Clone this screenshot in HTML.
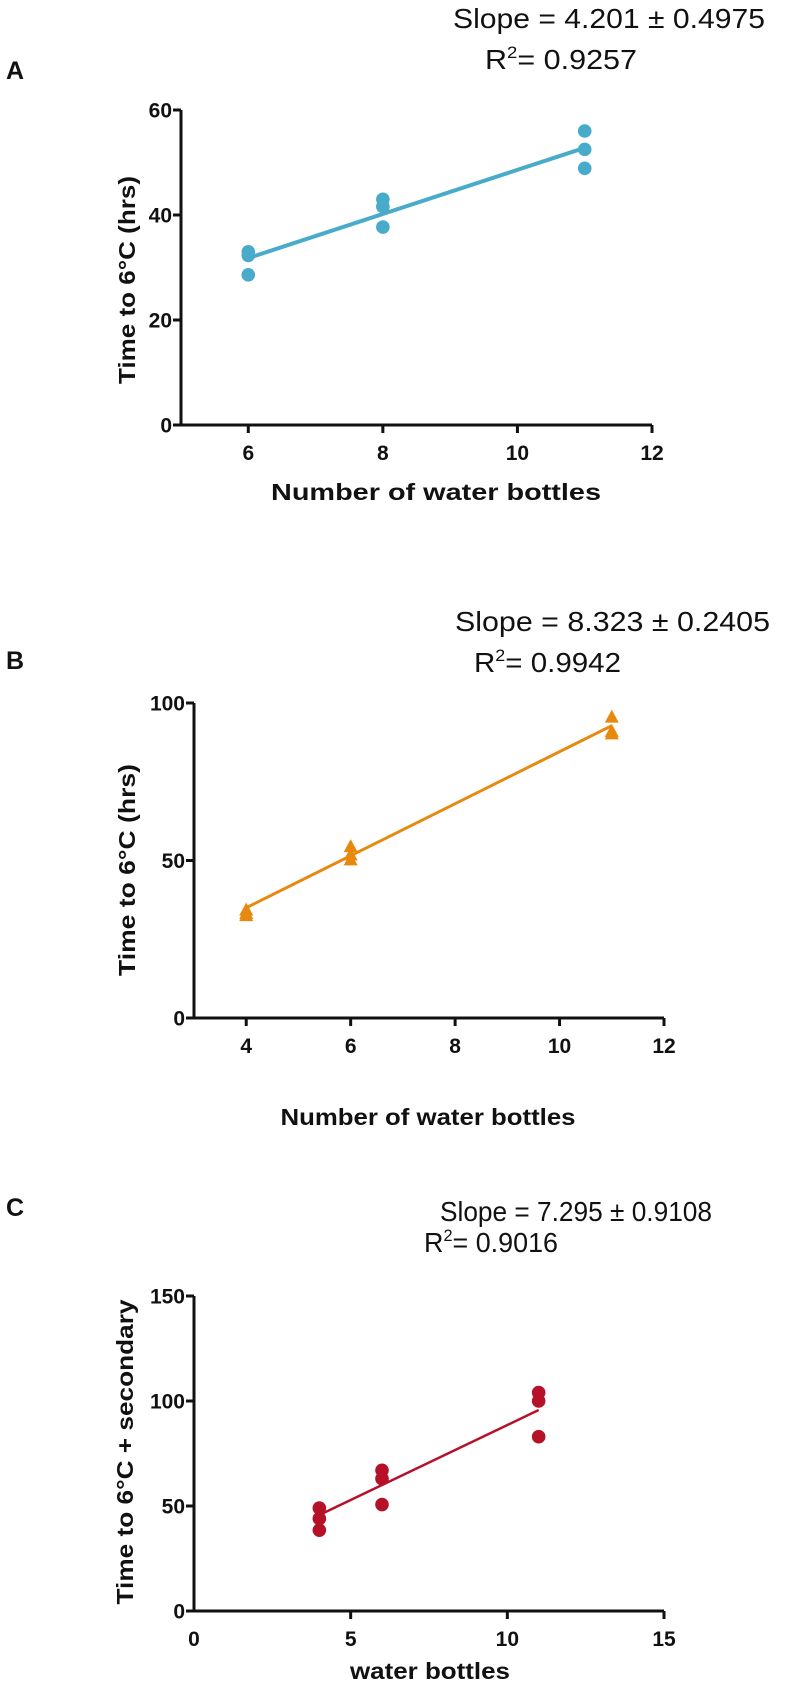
<!DOCTYPE html>
<html><head><meta charset="utf-8">
<style>
html,body{margin:0;padding:0;background:#fff;}
svg{display:block;}
text{font-family:"Liberation Sans",Arial,sans-serif;}
.tick{font-weight:bold;font-size:21px;fill:#111;}
.title{font-weight:bold;font-size:23px;fill:#111;}
.stat{font-size:28px;fill:#111;}
.panel{font-weight:bold;font-size:25px;fill:#111;}
</style></head>
<body>
<svg id="fig" width="800" height="1683" viewBox="0 0 800 1683">
  <text class="panel" x="6" y="79">A</text>
  <text class="stat" x="453" y="28" textLength="312" lengthAdjust="spacingAndGlyphs">Slope =  4.201 ± 0.4975</text>
  <text class="stat" x="485" y="69" textLength="152" lengthAdjust="spacingAndGlyphs">R<tspan dy="-11" font-size="17">2</tspan><tspan dy="11">=  0.9257</tspan></text>

  <text class="panel" x="6" y="669">B</text>
  <text class="stat" x="455" y="631" textLength="315" lengthAdjust="spacingAndGlyphs">Slope =  8.323 ± 0.2405</text>
  <text class="stat" x="474" y="672" textLength="147" lengthAdjust="spacingAndGlyphs">R<tspan dy="-11" font-size="17">2</tspan><tspan dy="11">=  0.9942</tspan></text>

  <text class="panel" x="6" y="1216">C</text>
  <text class="stat" x="440" y="1221" textLength="272" lengthAdjust="spacingAndGlyphs">Slope =  7.295 ± 0.9108</text>
  <text class="stat" x="424" y="1252" textLength="134" lengthAdjust="spacingAndGlyphs">R<tspan dy="-11" font-size="17">2</tspan><tspan dy="11">= 0.9016</tspan></text>
</svg>
<script>
// Panel A data
const aX = [6, 6, 6, 8, 8, 8, 11, 11, 11];
const aY = [33, 32.3, 28.6, 43, 41.6, 37.7, 56, 52.5, 48.9];
const aFit = [31.8, 52.8];
const aFitX = [6, 11];
const aXTicks = [6, 8, 10, 12];
const aYTicks = [0, 20, 40, 60];
// Panel B data
const bX = [4, 4, 4, 6, 6, 6, 11, 11, 11];
const bY = [34.3, 33.2, 32.5, 54.4, 51.8, 50.2, 95.5, 91, 90.2];
const bFit = [35, 92.8];
const bFitX = [4, 11];
const bXTicks = [4, 6, 8, 10, 12];
const bYTicks = [0, 50, 100];
// Panel C data
const cX = [4, 4, 4, 6, 6, 6, 11, 11, 11];
const cY = [49, 44, 38.5, 67, 63, 50.7, 104, 100, 83];
const cFit = [45.7, 95.7];
const cFitX = [4, 11];
const cXTicks = [0, 5, 10, 15];
const cYTicks = [0, 50, 100, 150];

const NS = 'http://www.w3.org/2000/svg';
const svg = document.getElementById('fig');
function mk(tag, attrs, parent){
  const e = document.createElementNS(NS, tag);
  for (const k in attrs) e.setAttribute(k, attrs[k]);
  (parent || svg).appendChild(e);
  return e;
}
function panel(o){
  const g = mk('g', {});
  
  
  const sx = v => o.px0 + (v - o.xmin) / (o.xmax - o.xmin) * (o.px1 - o.px0);
  const sy = v => o.py0 - (v - o.ymin) / (o.ymax - o.ymin) * (o.py0 - o.py1);
  const ya = mk('line', {x1: o.px0, y1: o.py1, x2: o.px0, y2: o.py0 + 1.5, stroke: '#111', 'stroke-width': 3}, g);
  
  
  const xa = mk('line', {x1: o.px0 - 8, y1: o.py0, x2: o.px1, y2: o.py0, stroke: '#111', 'stroke-width': 3}, g);
  
  
  o.yTicks.forEach(t => {
    const y = sy(t);
    mk('line', {x1: o.px0 - 8, y1: y, x2: o.px0, y2: y, stroke: '#111', 'stroke-width': 3}, g);
    const tx = mk('text', {x: o.px0 - 9, y: y + 7.5, 'text-anchor': 'end', class: 'tick'}, g);
    tx.textContent = t;
    
    
  });
  o.xTicks.forEach(t => {
    const x = sx(t);
    if (x > o.px0 + 2) mk('line', {x1: x, y1: o.py0, x2: x, y2: o.py0 + 8, stroke: '#111', 'stroke-width': 3}, g);
    const tx = mk('text', {x: x, y: o.py0 + 35, 'text-anchor': 'middle', class: 'tick'}, g);
    tx.textContent = t;
    
    
  });
  const xt = mk('text', {x: o.xtX, y: o.xtY, 'text-anchor': 'middle', class: 'title', textLength: o.xtLen, lengthAdjust: 'spacingAndGlyphs'}, g);
  xt.textContent = o.xTitle;
  
  
  const yt = mk('text', {x: 0, y: 0, 'text-anchor': 'middle', class: 'title', textLength: o.ytLen, lengthAdjust: 'spacingAndGlyphs', transform: 'translate(' + o.ytX + ',' + o.ytY + ') rotate(-90)'}, g);
  yt.textContent = o.yTitle;
  
  
  const fl = mk('line', {x1: sx(o.fitX[0]), y1: sy(o.fit[0]), x2: sx(o.fitX[1]), y2: sy(o.fit[1]), stroke: o.color, 'stroke-width': o.lw}, g);
  
  
  o.xs.forEach((xv, i) => {
    const x = sx(xv), y = sy(o.ys[i]);
    let p;
    if (o.tri) {
      p = mk('polygon', {points: (x) + ',' + (y - 7.5) + ' ' + (x - 7) + ',' + (y + 5.5) + ' ' + (x + 7) + ',' + (y + 5.5), fill: o.color}, g);
    } else {
      p = mk('circle', {cx: x, cy: y, r: 6.8, fill: o.color}, g);
    }
    
    
  });
}
panel({id: 'a', xs: aX, ys: aY, fit: aFit, fitX: aFitX, xTicks: aXTicks, yTicks: aYTicks,
  xmin: 5, xmax: 12, ymin: 0, ymax: 60, px0: 181, px1: 652, py0: 425, py1: 110,
  color: '#47abc9', lw: 4, tri: false,
  xTitle: 'Number of water bottles', xtX: 436, xtY: 500, xtLen: 330,
  yTitle: 'Time to 6°C (hrs)', ytX: 135, ytY: 280, ytLen: 208});
panel({id: 'b', xs: bX, ys: bY, fit: bFit, fitX: bFitX, xTicks: bXTicks, yTicks: bYTicks,
  xmin: 3, xmax: 12, ymin: 0, ymax: 100, px0: 194, px1: 664, py0: 1018, py1: 703,
  color: '#e8890f', lw: 3, tri: true,
  xTitle: 'Number of water bottles', xtX: 428, xtY: 1125, xtLen: 295,
  yTitle: 'Time to 6°C (hrs)', ytX: 135, ytY: 870, ytLen: 212});
panel({id: 'c', xs: cX, ys: cY, fit: cFit, fitX: cFitX, xTicks: cXTicks, yTicks: cYTicks,
  xmin: 0, xmax: 15, ymin: 0, ymax: 150, px0: 194, px1: 664, py0: 1611, py1: 1296,
  color: '#b5122a', lw: 2.5, tri: false,
  xTitle: 'water bottles', xtX: 430, xtY: 1679, xtLen: 160,
  yTitle: 'Time to 6°C + secondary', ytX: 133, ytY: 1452, ytLen: 305});
</script>
</body></html>
